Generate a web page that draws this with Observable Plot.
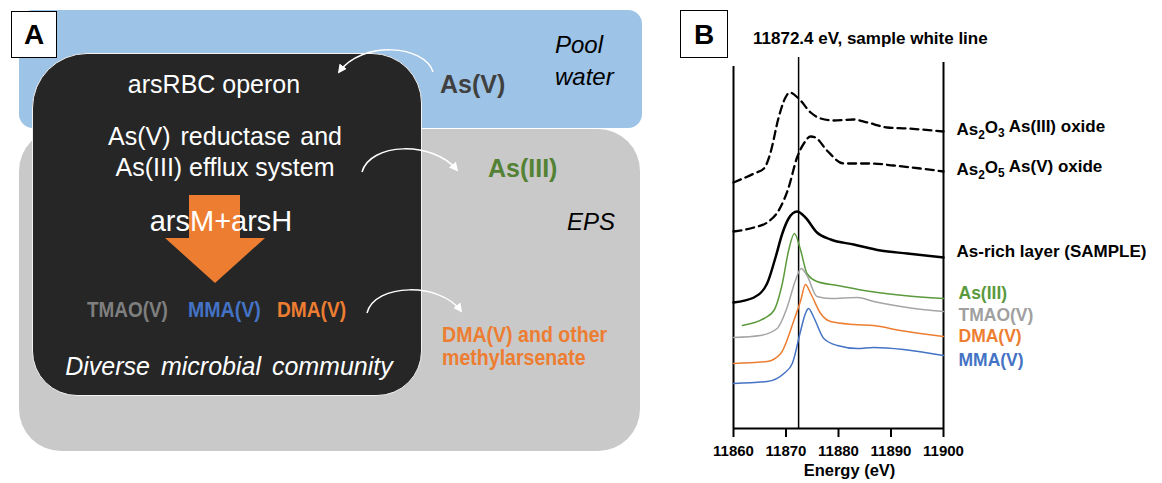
<!DOCTYPE html>
<html>
<head>
<meta charset="utf-8">
<script src="https://cdn.jsdelivr.net/npm/d3@7"></script>
<script src="https://cdn.jsdelivr.net/npm/@observablehq/plot@0.6"></script>
<style>
  html, body { margin: 0; padding: 0; background: #fff; }
  #wrap { position: relative; width: 1162px; height: 483px; overflow: hidden; font-family: "Liberation Sans", Arial, sans-serif; }
  .abs { position: absolute; white-space: nowrap; line-height: 1; }
  .narrow { font-weight: bold; transform-origin: 0 0; }
</style>
</head>
<body>
<div id="wrap">
  <!-- Panel A diagram -->
  <div class="abs" style="left:19px;top:10px;width:623px;height:118px;background:#9DC3E6;border-radius:14px;"></div>
  <div class="abs" style="left:19px;top:129px;width:621px;height:322px;background:#C9C9C9;border-radius:42px;"></div>
  <div class="abs" style="left:32px;top:53px;width:388px;height:341px;background:#262626;border:1.5px solid #f2f2f2;border-radius:55px 50px 45px 45px;"></div>
  <div class="abs" style="left:189px;top:195px;width:51px;height:44px;background:#ED7D31;"></div>
  <div class="abs" style="left:165px;top:238px;width:0;height:0;border-left:50px solid transparent;border-right:50px solid transparent;border-top:45px solid #ED7D31;"></div>

  <div class="abs" style="left:114px;width:200px;text-align:center;top:72px;font-size:25px;color:#fff;">arsRBC operon</div>
  <div class="abs" style="left:105px;width:240px;text-align:center;top:124px;font-size:25px;color:#fff;word-spacing:3px;">As(V) reductase and</div>
  <div class="abs" style="left:105px;width:240px;text-align:center;top:155px;font-size:25px;color:#fff;">As(III) efflux system</div>
  <div class="abs" style="left:121px;width:200px;text-align:center;top:207px;font-size:29px;color:#fff;">arsM+arsH</div>
  <div class="abs narrow" style="left:87px;top:299px;font-size:22px;color:#7F7F7F;transform:scaleX(0.86);">TMAO(V)</div>
  <div class="abs narrow" style="left:188px;top:299px;font-size:22px;color:#4472C4;transform:scaleX(0.89);">MMA(V)</div>
  <div class="abs narrow" style="left:277px;top:299px;font-size:22px;color:#ED7D31;transform:scaleX(0.87);">DMA(V)</div>
  <div class="abs" style="left:19px;width:420px;text-align:center;top:354px;font-size:25px;font-style:italic;color:#fff;word-spacing:4px;">Diverse microbial community</div>
  <div class="abs narrow" style="left:442px;top:324px;font-size:21.5px;color:#ED7D31;line-height:23px;transform:scaleX(0.91);">DMA(V) and other<br>methylarsenate</div>
  <div class="abs" style="left:555px;top:33px;font-size:24px;font-style:italic;color:#000;">Pool</div>
  <div class="abs" style="left:555px;top:65px;font-size:24px;font-style:italic;color:#000;">water</div>
  <div class="abs" style="left:440px;top:72px;font-size:25px;font-weight:bold;color:#404040;">As(V)</div>
  <div class="abs" style="left:488px;top:156px;font-size:25px;font-weight:bold;color:#548235;">As(III)</div>
  <div class="abs" style="left:567px;top:210px;font-size:24px;font-style:italic;color:#000;">EPS</div>

  <svg class="abs" style="left:0;top:0;overflow:visible" width="680" height="483">
    <defs>
      <marker id="ah" viewBox="0 0 10 10" refX="8" refY="5" markerWidth="6" markerHeight="6" orient="auto">
        <path d="M0,0 L10,5 L0,10 z" fill="#fff"/>
      </marker>
    </defs>
    <path d="M433,72 C425,45 362,40 339,72" fill="none" stroke="#fff" stroke-width="1.5" marker-end="url(#ah)"/>
    <path d="M362,172 C370,143 432,140 457,170" fill="none" stroke="#fff" stroke-width="1.5" marker-end="url(#ah)"/>
    <path d="M367,313 C375,283 440,282 461,311" fill="none" stroke="#fff" stroke-width="1.5" marker-end="url(#ah)"/>
  </svg>

  <div class="abs" style="left:11px;top:11px;width:44px;height:45px;border:1.5px solid #000;background:#fff;font-size:28px;font-weight:bold;text-align:center;line-height:46px;">A</div>

  <!-- Panel B -->
  <div id="chartB" class="abs" style="left:690px;top:0;"></div>
  <div class="abs" style="left:680px;top:10px;width:46px;height:46px;border:1.5px solid #000;background:#fff;font-size:28px;font-weight:bold;text-align:center;line-height:47px;">B</div>
  <div class="abs" style="left:753px;top:30px;font-size:17px;font-weight:bold;color:#000;">11872.4 eV, sample white line</div>
</div>

<script>
// ---- Data ----
const xTicks = [11860, 11870, 11880, 11890, 11900];
const whiteLineEnergy = 11872.4;

const as2o3Energy = [11860, 11863.9, 11865.8, 11867.0, 11868.6, 11869.9, 11870.7, 11872.4, 11874.7, 11876.6, 11879.0, 11882.9, 11885.5, 11889.3, 11893.1, 11900];
const as2o3Abs    = [2.46, 2.55, 2.60, 2.75, 3.11, 3.31, 3.36, 3.30, 3.16, 3.10, 3.08, 3.09, 3.06, 3.01, 3.00, 2.97];

const as2o5Energy = [11860, 11863.9, 11866.4, 11868.6, 11870.5, 11872.1, 11873.4, 11874.7, 11875.6, 11877.8, 11881.0, 11886.1, 11890.5, 11895.6, 11900];
const as2o5Abs    = [1.97, 2.01, 2.06, 2.18, 2.41, 2.71, 2.85, 2.92, 2.91, 2.78, 2.65, 2.65, 2.63, 2.60, 2.57];

const sampleEnergy = [11860, 11863.9, 11866.4, 11868.0, 11869.3, 11870.5, 11872.1, 11873.7, 11875.9, 11878.5, 11882.9, 11888.0, 11893.1, 11900];
const sampleAbs    = [1.26, 1.31, 1.45, 1.71, 1.95, 2.10, 2.17, 2.11, 1.96, 1.89, 1.84, 1.78, 1.75, 1.71];

const as3Energy = [11861.7, 11865.8, 11867.7, 11869.3, 11870.5, 11871.6, 11872.8, 11874.0, 11875.9, 11879.8, 11886.1, 11892.4, 11900];
const as3Abs    = [1.03, 1.10, 1.18, 1.45, 1.78, 1.95, 1.78, 1.55, 1.47, 1.43, 1.37, 1.33, 1.30];

const tmaoEnergy = [11860, 11865.1, 11868.3, 11870.2, 11871.8, 11872.9, 11874.0, 11875.9, 11878.5, 11883.6, 11886.7, 11893.1, 11900];
const tmaoAbs    = [0.91, 0.93, 1.00, 1.21, 1.48, 1.60, 1.53, 1.32, 1.30, 1.31, 1.27, 1.21, 1.17];

const dmaEnergy = [11860, 11866.4, 11869.0, 11871.5, 11872.8, 11873.7, 11874.7, 11876.6, 11878.5, 11882.9, 11886.7, 11891.8, 11900];
const dmaAbs    = [0.65, 0.67, 0.75, 1.08, 1.28, 1.44, 1.35, 1.15, 1.07, 1.04, 1.03, 0.98, 0.92];

const mmaEnergy = [11860, 11866.4, 11869.6, 11871.2, 11872.8, 11873.7, 11874.3, 11875.3, 11877.2, 11879.8, 11883.6, 11886.7, 11892.4, 11900];
const mmaAbs    = [0.45, 0.47, 0.55, 0.65, 0.98, 1.15, 1.20, 1.11, 0.90, 0.83, 0.80, 0.81, 0.79, 0.73];

const blackLabels = ["As2O3 As(III) oxide", "As2O5 As(V) oxide", "As-rich layer (SAMPLE)"];
const blackLabelY = [2.99, 2.59, 1.77];
const colorLabels = ["As(III)", "TMAO(V)", "DMA(V)", "MMA(V)"];
const colorLabelY = [1.355, 1.13, 0.92, 0.68];
const colorLabelFill = ["#5B9A3C", "#A0A0A0", "#ED7D31", "#4472C4"];

// ---- Build tables ----
const toRows = (E, A) => E.map((e, i) => ({energy: e, value: A[i]}));
const seriesStyles = [
  {rows: toRows(as2o3Energy, as2o3Abs), stroke: "#000", strokeWidth: 2.3, dash: "8,5"},
  {rows: toRows(as2o5Energy, as2o5Abs), stroke: "#000", strokeWidth: 2.3, dash: "8,5"},
  {rows: toRows(sampleEnergy, sampleAbs), stroke: "#000", strokeWidth: 2.5, dash: null},
  {rows: toRows(as3Energy, as3Abs), stroke: "#5B9A3C", strokeWidth: 1.5, dash: null},
  {rows: toRows(tmaoEnergy, tmaoAbs), stroke: "#A5A5A5", strokeWidth: 1.5, dash: null},
  {rows: toRows(dmaEnergy, dmaAbs), stroke: "#ED7D31", strokeWidth: 1.5, dash: null},
  {rows: toRows(mmaEnergy, mmaAbs), stroke: "#4472C4", strokeWidth: 1.5, dash: null}
];
const blackRows = blackLabels.map((t, i) => ({text: t, y: blackLabelY[i]}));
const colorRows = colorLabels.map((t, i) => ({text: t, y: colorLabelY[i], color: colorLabelFill[i]}));
const xMax = xTicks[xTicks.length - 1];

const chart = Plot.plot({
  width: 472,
  height: 483,
  marginLeft: 43,
  marginRight: 219,
  marginTop: 62,
  marginBottom: 55,
  x: {domain: [xTicks[0], xMax]},
  y: {domain: [0, 3.66], axis: null},
  color: {type: "identity"},
  style: {background: "transparent", fontFamily: "Liberation Sans, Arial, sans-serif", fontSize: "15px", fontWeight: "bold", color: "#000", overflow: "visible"},
  marks: [
    Plot.ruleX([xTicks[0]], {y1: 0, y2: 3.62, stroke: "#000", strokeWidth: 2}),
    Plot.ruleX([xMax], {y1: 0, y2: 3.66, stroke: "#000", strokeWidth: 2}),
    Plot.ruleX([whiteLineEnergy], {y1: 0, y2: 3.71, stroke: "#000", strokeWidth: 1.5}),
    ...seriesStyles.map(s => Plot.line(s.rows, {x: "energy", y: "value", stroke: s.stroke, strokeWidth: s.strokeWidth, strokeDasharray: s.dash, curve: "monotone-x"})),
    Plot.ruleY([0], {x1: xTicks[0], x2: xMax, stroke: "#000", strokeWidth: 2}),
    Plot.axisX(xTicks, {tickSize: 9, tickPadding: 8, strokeWidth: 2, tickFormat: d => String(d), label: null, fontSize: 15}),
    Plot.text(blackRows, {x: () => xMax, y: "y", text: "text", fill: "#000", fontSize: 17, dx: 13, textAnchor: "start", lineAnchor: "middle", className: "blab"}),
    Plot.text(colorRows, {x: () => xMax, y: "y", text: "text", fill: "color", fontSize: 17.5, dx: 15, textAnchor: "start", lineAnchor: "middle"}),
    Plot.text(["Energy (eV)"], {frameAnchor: "bottom", dx: 11, dy: 42, fontSize: 16.5, lineAnchor: "middle"})
  ]
});
document.getElementById("chartB").appendChild(chart);

// Render chemical formula digits as subscripts
d3.select(chart).selectAll(".blab text").each(function() {
  const t = d3.select(this);
  const s = t.text();
  const m = s.match(/^As(\d)O(\d)(.*)$/);
  if (!m) return;
  t.text(null);
  t.append("tspan").text("As");
  t.append("tspan").attr("dy", "0.3em").attr("font-size", "70%").text(m[1]);
  t.append("tspan").attr("dy", "-0.3em").text("O");
  t.append("tspan").attr("dy", "0.3em").attr("font-size", "70%").text(m[2]);
  t.append("tspan").attr("dy", "-0.3em").text(m[3]);
});
</script>
</body>
</html>
